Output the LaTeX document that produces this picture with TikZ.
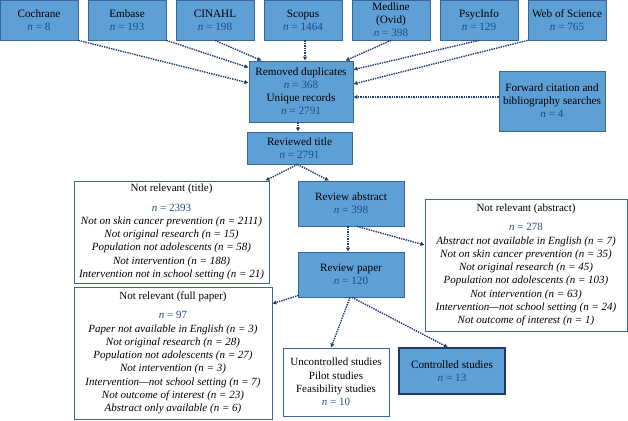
\documentclass[tikz,border=0pt]{standalone}
\usepackage{fontspec}
\setmainfont{Liberation Serif}
\usepackage{tikz}
\usetikzlibrary{arrows.meta,positioning,calc}
\usepackage{xcolor}
\definecolor{fbox}{HTML}{5E9FD6}
\definecolor{fedge}{HTML}{3A6698}
\definecolor{fnum}{HTML}{1F4E8C}
\definecolor{farrow}{HTML}{1F3C6E}
\definecolor{fdark}{HTML}{1F3864}
\tikzset{
  srcbox/.style  = {draw=fedge, fill=fbox, thick, rectangle, inner sep=1pt,
                    align=center, font=\fontsize{11.2}{13}\selectfont},
  notebox/.style = {draw=fedge, fill=white, thick, rectangle, inner sep=1pt,
                    align=center, font=\fontsize{11}{13.3}\selectfont},
  flow/.style    = {-{Latex[length=4pt,width=4.5pt]}, densely dotted,
                    line width=1.4pt, farrow},
}
\newcommand{\nval}[1]{\textcolor{fnum}{\textit{n} = #1}}

\begin{document}
\begin{tikzpicture}[x=1pt, y=-1pt]
\useasboundingbox (0,0) rectangle (628,420);
% ---- databases ----
\foreach \id/\lbl/\num [count=\i from 0] in {coch/Cochrane/8, emb/Embase/193,
    cin/CINAHL/198, sco/Scopus/1464, med/{Medline\\(Ovid)}/398,
    psy/PsycInfo/129, wos/Web of Science/765}
  \node[srcbox, minimum width=78pt, minimum height=40pt] (\id)
    at (39+88*\i,20) {\lbl\\\nval{\num}};
% ---- screening ----
\node[srcbox, minimum width=104pt, minimum height=61pt] (dup) at (301,91.5)
  {Removed duplicates\\\nval{368}\\Unique records\\\nval{2791}};
\node[srcbox, minimum width=106pt, minimum height=60pt] (fwd) at (552,101)
  {Forward citation and\\bibliography searches\\\nval{4}};
\node[srcbox, minimum width=105pt, minimum height=32pt] (title) at (299.5,148)
  {Reviewed title\\\nval{2791}};
\node[srcbox, minimum width=106pt, minimum height=45pt] (abs) at (351,203.5)
  {Review abstract\\\nval{398}};
\node[srcbox, minimum width=106pt, minimum height=45pt] (paper) at (351,274.5)
  {Review paper\\\nval{120}};
% ---- exclusions ----
\node[notebox, minimum width=195pt, minimum height=102pt] (nrtitle) at (171.5,232)
  {Not relevant (title)\\[6pt]
   \nval{2393}\\
   \textit{Not on skin cancer prevention (n = 2111)}\\
   \textit{Not original research (n = 15)}\\
   \textit{Population not adolescents (n = 58)}\\
   \textit{Not intervention (n = 188)}\\
   \textit{Intervention not in school setting (n = 21)}};
\node[notebox, minimum width=202pt, minimum height=132pt] (nrabs) at (526,265)
  {Not relevant (abstract)\\[6pt]
   \nval{278}\\
   \textit{Abstract not available in English (n = 7)}\\
   \textit{Not on skin cancer prevention (n = 35)}\\
   \textit{Not original research (n = 45)}\\
   \textit{Population not adolescents (n = 103)}\\
   \textit{Not intervention (n = 63)}\\
   \textit{Intervention---not school setting (n = 24)}\\
   \textit{Not outcome of interest (n = 1)}};
\node[notebox, minimum width=198pt, minimum height=132pt] (nrfull) at (173,353)
  {Not relevant (full paper)\\[6pt]
   \nval{97}\\
   \textit{Paper not available in English (n = 3)}\\
   \textit{Not original research (n = 28)}\\
   \textit{Population not adolescents (n = 27)}\\
   \textit{Not intervention (n = 3)}\\
   \textit{Intervention---not school setting (n = 7)}\\
   \textit{Not outcome of interest (n = 23)}\\
   \textit{Abstract only available (n = 6)}};
% ---- included ----
\node[notebox, minimum width=106pt, minimum height=68pt] (unctrl) at (336,382)
  {Uncontrolled studies\\Pilot studies\\Feasibility studies\\\nval{10}};
\node[srcbox, draw=fdark, very thick, minimum width=106pt, minimum height=46pt]
  (ctrl) at (452,371) {Controlled studies\\\nval{13}};
% ---- arrows ----
\draw[flow] (coch.south east) -- ([yshift=8.5pt]dup.west);
\draw[flow] (emb.south east) -- ([yshift=-7pt]dup.north west);
\draw[flow] (cin.south) -- ([xshift=13pt]dup.north west);
\draw[flow] ([xshift=2pt]sco.south) -- ([xshift=2pt]sco.south |- dup.north);
\draw[flow] (med.south) -- ([xshift=-8pt]dup.north east);
\draw[flow] (psy.south) -- ([yshift=-9pt]dup.north east);
\draw[flow] (wos.south west) -- ([yshift=7.5pt]dup.east);
\draw[flow] ([yshift=4pt]fwd.west) -- ([yshift=4pt]fwd.west -| dup.east);
\draw[flow] ([xshift=-3pt]dup.south) -- ([xshift=-3pt]dup.south |- title.north);
\draw[flow] ([xshift=-2pt]title.south) -- ([xshift=-4pt]nrtitle.north east);
\draw[flow] ([xshift=-2pt]title.south) -- ([xshift=-22pt]abs.north);
\draw[flow] ([xshift=-3pt]abs.south) -- ([xshift=-3pt]paper.north);
\draw[flow] ([xshift=6pt]abs.south) -- ([yshift=20pt]nrabs.west);
\draw[flow] ([xshift=1pt,yshift=2pt]paper.south west) -- ([yshift=-17pt]nrfull.north east);
\draw[flow] ([xshift=-1pt]paper.south) -- ([xshift=-5pt]unctrl.north);
\draw[flow] ([xshift=1pt]paper.south) -- ([xshift=-4pt]ctrl.north);
\end{tikzpicture}
\end{document}
